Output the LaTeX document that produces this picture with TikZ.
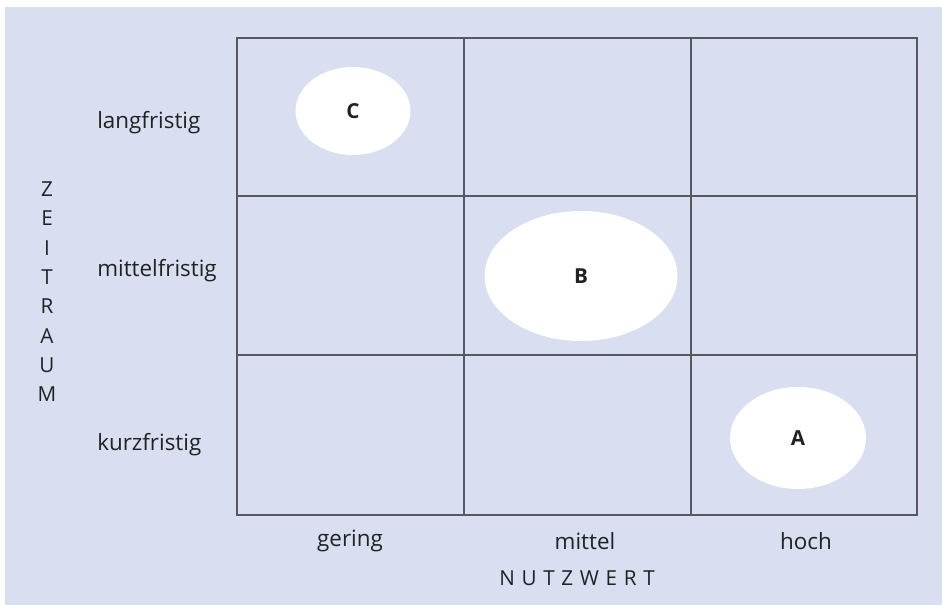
\documentclass[tikz,border=0pt]{standalone}
\usepackage{fontspec}
\setmainfont{Open Sans}
\usetikzlibrary{shapes.geometric}
\definecolor{panel}{HTML}{D9DEF0}
\definecolor{gridline}{HTML}{58585E}
\definecolor{ink}{HTML}{222222}
\begin{document}
\begin{tikzpicture}[x=0.75pt,y=-0.75pt,
  cellline/.style={draw=gridline,line width=1.1pt},
  blob/.style={ellipse,fill=white,draw=none,inner sep=0pt,font=\fontsize{15.5}{18}\selectfont\bfseries,text=ink},
  rowlabel/.style={anchor=west,font=\fontsize{16.8}{19}\selectfont,text=ink,inner sep=0pt},
  collabel/.style={anchor=center,font=\fontsize{16.8}{19}\selectfont,text=ink,inner sep=0pt},
  axisletter/.style={anchor=center,font=\fontsize{15.5}{18}\selectfont,text=ink,inner sep=0pt}]
% canvas and panel
\useasboundingbox (0,0) rectangle (942,605);
\fill[white] (0,0) rectangle (942,605);
\fill[panel] (5,7) rectangle (942,605);
% 3x3 grid
\draw[cellline] (237,38) rectangle (917,515);
\draw[cellline] (464,38) -- (464,515);
\draw[cellline] (691,38) -- (691,515);
\draw[cellline] (237,196) -- (917,196);
\draw[cellline] (237,355) -- (917,355);
% projects
\node[blob,minimum width=115*0.75pt,minimum height=88*0.75pt] (c) at (353,111) {C};
\node[blob,minimum width=193*0.75pt,minimum height=130*0.75pt] (b) at (581,276) {B};
\node[blob,minimum width=136*0.75pt,minimum height=102*0.75pt] (a) at (798,438) {A};
% row labels
\node[rowlabel] (lang) at (97,123) {langfristig};
\node[rowlabel] (mittelf) at (97,271) {mittelfristig};
\node[rowlabel] (kurz) at (97,445) {kurzfristig};
% column labels
\node[collabel] (gering) at (350,541) {gering};
\node[collabel] (mittel) at (585,541) {mittel};
\node[collabel] (hoch) at (806,541) {hoch};
\node[collabel,font=\fontsize{15.5}{18}\selectfont] (nutz) at (577,578) {N\kern5pt U\kern5pt T\kern5pt Z\kern5pt W\kern5pt E\kern5pt R\kern5pt T};
% vertical axis title
\foreach \ch [count=\i] in {Z,E,I,T,R,A,U,M}
  \node[axisletter] (z\i) at (47,160+29.3*\i) {\ch};
\end{tikzpicture}
\end{document}
